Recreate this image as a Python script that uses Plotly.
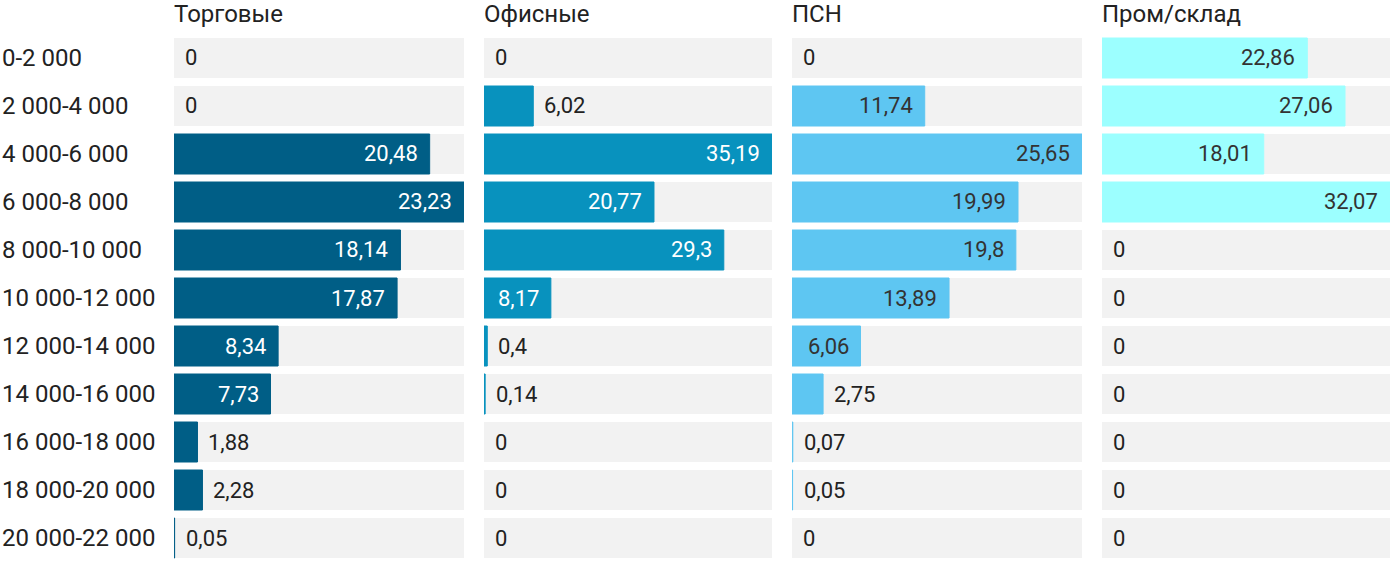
import plotly.graph_objects as go

categories = ["0-2 000", "2 000-4 000", "4 000-6 000", "6 000-8 000", "8 000-10 000",
              "10 000-12 000", "12 000-14 000", "14 000-16 000", "16 000-18 000",
              "18 000-20 000", "20 000-22 000"]
panel_titles = ["Торговые", "Офисные", "ПСН", "Пром/склад"]
trade = [0, 0, 20.48, 23.23, 18.14, 17.87, 8.34, 7.73, 1.88, 2.28, 0.05]
office = [0, 6.02, 35.19, 20.77, 29.3, 8.17, 0.4, 0.14, 0, 0, 0]
psn = [0, 11.74, 25.65, 19.99, 19.8, 13.89, 6.06, 2.75, 0.07, 0.05, 0]
industrial = [22.86, 27.06, 18.01, 32.07, 0, 0, 0, 0, 0, 0, 0]

series = [trade, office, psn, industrial]
colors = ["#005e86", "#0892be", "#5ec6f2", "#9cffff"]
inside_font = ["#ffffff", "#ffffff", "#333333", "#333333"]
dark = "#222222"
grey = "#f2f2f2"

W, H = 1400, 574
x_px = [(174, 464), (484, 772), (792, 1082), (1102, 1390)]
top_px, bot_px = 34, 562

fig = go.Figure()
annotations = []


def fmt(v):
    s = ("%.2f" % v).rstrip("0").rstrip(".")
    return s.replace(".", ",")


for i, (vals, title) in enumerate(zip(series, panel_titles)):
    xa = "x" if i == 0 else "x%d" % (i + 1)
    ya = "y" if i == 0 else "y%d" % (i + 1)
    vmax = max(vals)
    pw = x_px[i][1] - x_px[i][0]
    fig.add_trace(go.Bar(y=categories, x=[vmax] * len(categories), orientation="h",
                         marker=dict(color=grey, line=dict(width=0)),
                         xaxis=xa, yaxis=ya, hoverinfo="skip", showlegend=False))
    fig.add_trace(go.Bar(y=categories, x=[v if v > 0 else None for v in vals], orientation="h",
                         marker=dict(color=colors[i], line=dict(width=1, color=colors[i])),
                         xaxis=xa, yaxis=ya, hoverinfo="skip", showlegend=False))
    for c, v in zip(categories, vals):
        bar_px = v / vmax * pw
        inside = bar_px > 60
        annotations.append(dict(
            x=v, y=c, xref=xa, yref=ya, text=fmt(v), showarrow=False,
            xanchor="right" if inside else "left",
            xshift=-10 if inside else 9,
            font=dict(size=22, color=inside_font[i] if inside else dark,
                      family="Roboto")))
    annotations.append(dict(x=x_px[i][0] / W, y=1 - 14 / H, xref="paper", yref="paper",
                            text=title, showarrow=False, xanchor="left", yanchor="middle",
                            xshift=-2,
                            font=dict(size=24, color=dark, family="Roboto")))
    fig.layout[("xaxis" if i == 0 else "xaxis%d" % (i + 1))] = dict(
        domain=[x_px[i][0] / W, x_px[i][1] / W], range=[0, vmax], anchor=ya,
        showgrid=False, zeroline=False, showticklabels=False, fixedrange=True)
    fig.layout[("yaxis" if i == 0 else "yaxis%d" % (i + 1))] = dict(
        domain=[1 - bot_px / H, 1 - top_px / H], anchor=xa, autorange="reversed",
        showgrid=False, zeroline=False, showticklabels=False, type="category", fixedrange=True)

for c in categories:
    annotations.append(dict(x=0, y=c, xref="paper", yref="y", text=c, showarrow=False,
                            xanchor="left", xshift=0,
                            font=dict(size=24, color=dark, family="Roboto")))

fig.update_layout(width=W, height=H, margin=dict(l=0, r=0, t=0, b=0),
                  barmode="overlay", bargap=8 / 48, plot_bgcolor="white", paper_bgcolor="white",
                  annotations=annotations, font=dict(family="Roboto"))
fig.write_html("out.html", config={"displayModeBar": False},
               post_script="document.body.style.margin='0';")
